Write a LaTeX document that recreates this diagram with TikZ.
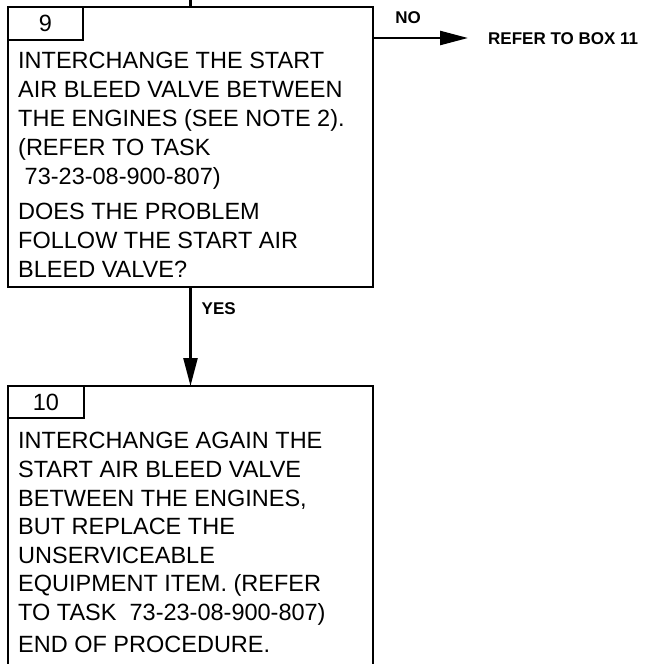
\documentclass[tikz,border=0pt]{standalone}
\usepackage{fontspec}
\setmainfont{Liberation Sans}
\usetikzlibrary{arrows.meta,positioning}

\begin{document}
\begin{tikzpicture}[x=1pt, y=-1pt, >={Triangle[length=28pt,width=14pt]}]
    \useasboundingbox (0,0) rectangle (653,664);
    \clip (0,0) rectangle (653,664);
    \tikzset{
        frame/.style={draw, line width=2.4pt, inner sep=0pt, outer sep=0pt, anchor=north west},
        tabbox/.style={frame, font=\fontsize{23.5}{28}\selectfont},
        body/.style={anchor=base west, inner sep=0pt, align=left},
        lbl/.style={font=\fontsize{17}{20}\selectfont\bfseries, inner sep=0pt},
        link/.style={line width=2.4pt}
    }

    % box 9 (text placed by its last line)
    \node[frame, minimum width=365pt, minimum height=280pt] (box9) at (8,7) {};
    \node[tabbox, minimum width=75pt, minimum height=33pt] (tab9) at (box9.north west) {9};
    \node[body, font=\fontsize{23.5}{29}\selectfont] (txt9) at (18,277) {INTERCHANGE THE START\\
        AIR BLEED VALVE BETWEEN\\
        THE ENGINES (SEE NOTE 2).\\
        (REFER TO TASK\\
        \ 73-23-08-900-807)\\[6pt]
        DOES THE PROBLEM\\
        FOLLOW THE START AIR\\
        BLEED VALVE?};

    % box 10, runs off the bottom
    \node[frame, minimum width=365pt, minimum height=320pt] (box10) at (8,386) {};
    \node[tabbox, minimum width=76pt, minimum height=32pt] (tab10) at (box10.north west) {10};
    \node[body, font=\fontsize{23.5}{28.6}\selectfont] (txt10) at (18,652) {INTERCHANGE AGAIN THE\\
        START AIR BLEED VALVE\\
        BETWEEN THE ENGINES,\\
        BUT REPLACE THE\\
        UNSERVICEABLE\\
        EQUIPMENT ITEM. (REFER\\
        TO TASK\ \ 73-23-08-900-807)\\[3pt]
        END OF PROCEDURE.};

    % connectors
    \coordinate (in9) at (190.5,-3);
    \draw[link] (in9) -- (box9.north);
    \draw[->, link] (box9.south) -- (box10.north)
        node[lbl, pos=0.22, right=10pt] (yes) {YES};

    \coordinate (no9) at (468,38);
    \draw[->, link] (box9.east |- no9) -- (no9);
    \node[lbl] (no) at (408,18) {NO};
    \node[lbl, anchor=west] (box11) at (488,38.5) {REFER TO BOX 11};
\end{tikzpicture}
\end{document}
